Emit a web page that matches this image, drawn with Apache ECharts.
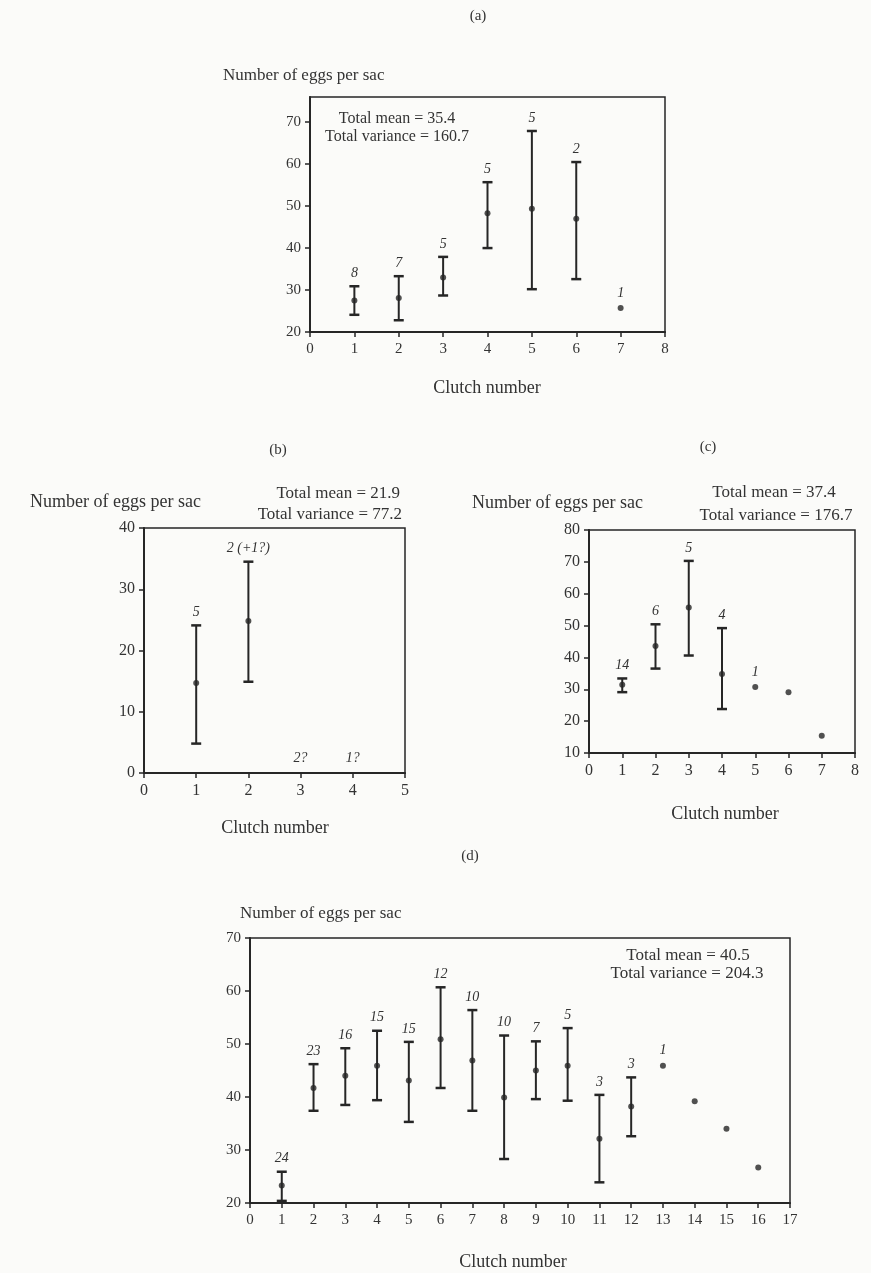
<!DOCTYPE html>
<html><head><meta charset="utf-8">
<script src="https://cdn.jsdelivr.net/npm/echarts@6/dist/echarts.min.js"></script>
<style>html,body{margin:0;padding:0;background:#fbfbf9}#c{width:871px;height:1273px}</style>
</head><body><div id="c"></div>
<script>
// ---------- data ----------
// (a)
const aClutch = [1, 2, 3, 4, 5, 6, 7];
const aMean   = [27.5, 28.1, 33.0, 48.3, 49.4, 47.0, 25.7];
const aLow    = [24.1, 22.8, 28.7, 40.0, 30.2, 32.6, null];
const aHigh   = [30.9, 33.3, 37.9, 55.7, 67.9, 60.5, null];
const aN      = ['8', '7', '5', '5', '5', '2', '1'];
const aTicksY = [20, 30, 40, 50, 60, 70];
// (b)
const bClutch = [1, 2, 3, 4];
const bMean   = [14.7, 24.8, null, null];
const bLow    = [4.8, 14.9, null, null];
const bHigh   = [24.1, 34.5, null, null];
const bN      = ['5', '2 (+1?)', '2?', '1?'];
// (c)
const cClutch = [1, 2, 3, 4, 5, 6, 7];
const cMean   = [31.4, 43.6, 55.7, 34.8, 30.7, 29.1, 15.4];
const cLow    = [29.1, 36.5, 40.6, 23.8, null, null, null];
const cHigh   = [33.4, 50.4, 70.3, 49.2, null, null, null];
const cN      = ['14', '6', '5', '4', '1', '', ''];
// (d)
const dClutch = [1, 2, 3, 4, 5, 6, 7, 8, 9, 10, 11, 12, 13, 14, 15, 16];
const dMean   = [23.3, 41.7, 44.0, 45.9, 43.1, 50.9, 46.9, 39.9, 45.0, 45.9, 32.1, 38.2, 45.9, 39.2, 34.0, 26.7];
const dLow    = [20.4, 37.4, 38.5, 39.4, 35.3, 41.7, 37.4, 28.3, 39.6, 39.3, 23.9, 32.6, null, null, null, null];
const dHigh   = [25.9, 46.2, 49.2, 52.5, 50.4, 60.7, 56.4, 51.6, 50.5, 53.0, 40.4, 43.7, null, null, null, null];
const dN      = ['24', '23', '16', '15', '15', '12', '10', '10', '7', '5', '3', '3', '1', '', '', ''];

const panelTitles = ['(a)', '(b)', '(c)', '(d)'];
const yTitle = 'Number of eggs per sac';
const xTitle = 'Clutch number';
const totals = [
  ['Total mean = 35.4', 'Total variance = 160.7'],
  ['Total mean = 21.9', 'Total variance = 77.2'],
  ['Total mean = 37.4', 'Total variance = 176.7'],
  ['Total mean = 40.5', 'Total variance = 204.3']
];

// ---------- chart ----------
const INK = '#262626';
const SERIF = '"Liberation Serif", "DejaVu Serif", serif';

const panels = [
  {clutch: aClutch, mean: aMean, low: aLow, high: aHigh, n: aN, grid: {left: 310, top: 97, width: 355, height: 235},
   x: [0, 8], y: [20, 76], yi: 10, yCustom: aTicksY, fs: 15},
  {clutch: bClutch, mean: bMean, low: bLow, high: bHigh, n: bN, grid: {left: 144, top: 528, width: 261, height: 245},
   x: [0, 5], y: [0, 40], yi: 10, fs: 16},
  {clutch: cClutch, mean: cMean, low: cLow, high: cHigh, n: cN, grid: {left: 589, top: 530, width: 266, height: 223},
   x: [0, 8], y: [10, 80], yi: 10, fs: 16},
  {clutch: dClutch, mean: dMean, low: dLow, high: dHigh, n: dN, grid: {left: 250, top: 938, width: 540, height: 265},
   x: [0, 17], y: [20, 70], yi: 10, fs: 15}
];

const grids = [], xAxes = [], yAxes = [], series = [];

panels.forEach((p, k) => {
  const labelStyle = {fontFamily: SERIF, fontSize: p.fs, color: '#333'};
  grids.push(Object.assign({show: true, borderColor: INK, borderWidth: 1.5, backgroundColor: 'transparent'}, p.grid));
  xAxes.push({type: 'value', gridIndex: k, min: p.x[0], max: p.x[1], interval: 1,
    axisLine: {show: true, onZero: false, lineStyle: {color: INK, width: 2}},
    axisTick: {show: true, length: 5, lineStyle: {color: INK, width: 1.5}},
    axisLabel: Object.assign({margin: 10}, labelStyle),
    splitLine: {show: false}});
  const ya = {type: 'value', gridIndex: k, min: p.y[0], max: p.y[1], interval: p.yi,
    axisLine: {show: true, onZero: false, lineStyle: {color: INK, width: 2}},
    axisTick: {show: true, length: 5, lineStyle: {color: INK, width: 1.5}},
    axisLabel: Object.assign({margin: 9}, labelStyle),
    splitLine: {show: false}};
  if (p.yCustom) {
    ya.axisTick.customValues = p.yCustom;
    ya.axisLabel.customValues = p.yCustom;
  }
  yAxes.push(ya);

  // error bars + sample-size labels
  series.push({
    type: 'custom', xAxisIndex: k, yAxisIndex: k, silent: true,
    data: p.clutch.map((c, i) => [c, i]),
    renderItem: function (params, api) {
      const i = params.dataIndex;
      const x = api.value(0);
      const lo = p.low[i], hi = p.high[i], m = p.mean[i];
      const children = [];
      let topY;
      const cap = 5;
      if (lo != null && hi != null) {
        const pt = api.coord([x, hi]), pb = api.coord([x, lo]);
        children.push({type: 'line', shape: {x1: pt[0], y1: pt[1], x2: pb[0], y2: pb[1]}, style: {stroke: INK, lineWidth: 2}});
        children.push({type: 'line', shape: {x1: pt[0] - cap, y1: pt[1], x2: pt[0] + cap, y2: pt[1]}, style: {stroke: INK, lineWidth: 2.5}});
        children.push({type: 'line', shape: {x1: pb[0] - cap, y1: pb[1], x2: pb[0] + cap, y2: pb[1]}, style: {stroke: INK, lineWidth: 2.5}});
        topY = pt[1] - 6;
      } else if (m != null) {
        topY = api.coord([x, m])[1] - 8;
      } else {
        topY = api.coord([x, p.y[0]])[1] - 8;
      }
      const px = api.coord([x, p.y[0]])[0];
      if (p.n[i]) {
        children.push({type: 'text', style: {text: p.n[i], x: px, y: topY, align: 'center', verticalAlign: 'bottom',
          font: 'italic 14px ' + SERIF, fill: '#333'}});
      }
      return {type: 'group', children: children};
    },
    z: 3
  });
  // means
  series.push({
    type: 'scatter', xAxisIndex: k, yAxisIndex: k, silent: true,
    symbol: 'circle', symbolSize: 6, itemStyle: {color: INK},
    data: p.clutch.map((c, i) => [c, p.mean[i]]).filter(d => d[1] != null),
    z: 4
  });
});

function txt(text, x, y, size, align) {
  return {type: 'text', x: x, y: y, silent: true,
    style: {text: text, font: size + 'px ' + SERIF, fill: '#333', align: align || 'center', verticalAlign: 'middle'}};
}

const graphic = [
  txt(panelTitles[0], 478, 16, 15),
  txt(yTitle, 223, 76, 17, 'left'),
  txt(totals[0][0], 397, 119, 16),
  txt(totals[0][1], 397, 137, 16),
  txt(xTitle, 487, 388, 18),

  txt(panelTitles[1], 278, 450, 15),
  txt(yTitle, 30, 502, 18, 'left'),
  txt(totals[1][0], 400, 494, 17, 'right'),
  txt(totals[1][1], 402, 515, 17, 'right'),
  txt(xTitle, 275, 828, 18),

  txt(panelTitles[2], 708, 447, 15),
  txt(yTitle, 472, 503, 18, 'left'),
  txt(totals[2][0], 774, 493, 17),
  txt(totals[2][1], 776, 516, 17),
  txt(xTitle, 725, 814, 18),

  txt(panelTitles[3], 470, 856, 15),
  txt(yTitle, 240, 914, 17, 'left'),
  txt(totals[3][0], 688, 956, 17),
  txt(totals[3][1], 687, 974, 17),
  txt(xTitle, 513, 1262, 18)
];

const chart = echarts.init(document.getElementById('c'), null, {renderer: 'canvas'});
chart.setOption({
  animation: false,
  backgroundColor: '#fbfbf9',
  grid: grids, xAxis: xAxes, yAxis: yAxes, series: series, graphic: graphic
});
</script>
</body></html>
